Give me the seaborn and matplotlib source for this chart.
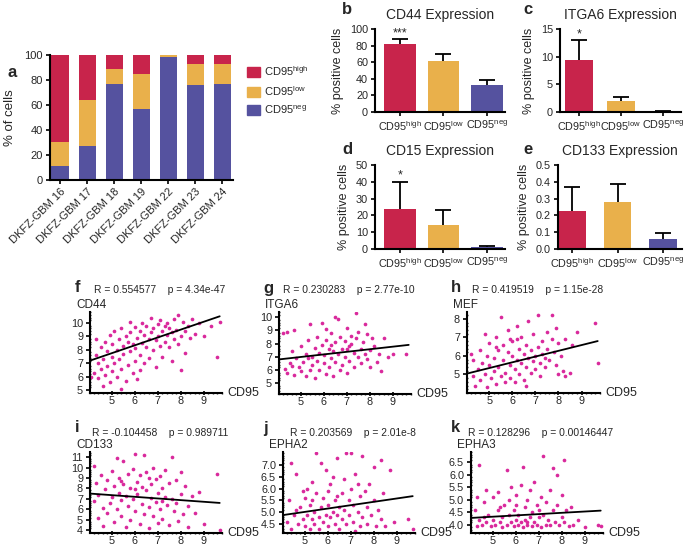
import matplotlib
matplotlib.use("Agg")
import matplotlib.pyplot as plt
from matplotlib.patches import Patch
from matplotlib.ticker import MultipleLocator, FormatStrFormatter
import numpy as np
import pandas as pd
import seaborn as sns

sns.set_style("ticks")
plt.rcParams['font.family'] = ['Liberation Sans', 'DejaVu Sans']
plt.rcParams['mathtext.default'] = 'regular'

W, H = 685, 548
RED = '#c8244b'
ORANGE = '#e9b04b'
BLUE = '#55529f'
MAG = '#d9299c'

# ---- panel a: CD95 subpopulations per line
gbm_lines = ['DKFZ-GBM 16', 'DKFZ-GBM 17', 'DKFZ-GBM 18', 'DKFZ-GBM 19',
             'DKFZ-GBM 22', 'DKFZ-GBM 23', 'DKFZ-GBM 24']
cd95_neg = [11, 27, 77, 57, 98, 76, 77]
cd95_low = [19, 37, 12, 28, 2, 17, 16]
cd95_high = [70, 36, 11, 15, 0, 7, 7]

# ---- panels b-e: marker expression per group
groups = ['CD95$^{high}$', 'CD95$^{low}$', 'CD95$^{neg}$']
cd44_mean = [82, 62, 33]
cd44_err = [6, 8, 5]
itga6_mean = [9.4, 1.9, 0.1]
itga6_err = [3.6, 0.8, 0.05]
cd15_mean = [24, 14, 1.0]
cd15_err = [16, 9, 0.8]
cd133_mean = [0.225, 0.28, 0.057]
cd133_err = [0.145, 0.105, 0.041]

f_pts = [(4.2,6.3),(4.3,7.6),(4.3,8.8),(4.4,5.9),(4.4,7.0),(4.5,6.6),(4.5,8.2),(4.6,5.3),(4.6,7.3),(4.7,6.1),
         (4.7,8.6),(4.8,6.8),(4.8,7.9),(4.9,5.6),(4.9,9.1),(5.0,6.4),(5.0,7.5),(5.0,8.4),(5.1,7.0),(5.1,9.4),
         (5.2,6.0),(5.2,8.0),(5.3,8.8),(5.3,7.3),(5.4,6.6),(5.4,9.6),(5.5,8.3),(5.5,7.7),(5.6,5.7),(5.6,9.0),
         (5.7,8.6),(5.7,6.9),(5.8,9.3),(5.8,7.9),(5.9,8.4),(5.9,6.3),(6.0,9.7),(6.0,8.1),(6.0,7.2),(6.1,8.9),
         (6.1,5.8),(6.2,9.4),(6.2,7.6),(6.3,8.5),(6.3,10.0),(6.4,7.0),(6.4,9.1),(6.5,8.2),(6.5,9.8),(6.6,8.8),
         (6.6,7.4),(6.7,10.4),(6.7,9.3),(6.8,8.0),(6.8,9.6),(6.9,8.7),(6.9,6.7),(7.0,9.9),(7.0,9.0),(7.1,8.3),
         (7.1,10.2),(7.2,9.4),(7.2,7.5),(7.3,9.8),(7.3,8.6),(7.4,10.0),(7.4,9.1),(7.5,8.2),(7.5,9.6),(7.6,9.3),
         (7.7,10.3),(7.7,8.8),(7.8,9.5),(7.9,10.6),(7.9,8.4),(8.0,9.0),(8.0,6.5),(8.1,10.1),(8.2,9.4),(8.2,7.8),
         (8.3,9.8),(8.4,8.9),(8.5,10.3),(8.6,9.2),(8.8,10.0),(9.0,9.0),(9.3,9.8),(9.6,7.5),(9.7,10.1),(5.4,5.1),
         (4.1,6.0),(6.2,6.5),(5.8,10.1),(7.6,7.2)]
g_pts = [(4.2,8.8),(4.3,6.1),(4.4,8.9),(4.4,5.8),(4.5,6.5),(4.6,7.4),(4.7,5.6),(4.7,9.0),(4.8,6.9),(4.9,6.2),
         (5.0,7.8),(5.0,5.9),(5.1,6.6),(5.2,7.2),(5.2,5.5),(5.3,8.3),(5.4,6.0),(5.4,9.5),(5.5,7.0),(5.5,6.4),
         (5.6,7.7),(5.6,5.4),(5.7,8.5),(5.7,6.7),(5.8,7.3),(5.8,6.0),(5.9,9.6),(5.9,7.9),(6.0,6.5),(6.0,7.1),
         (6.1,8.3),(6.1,5.7),(6.2,7.6),(6.2,6.2),(6.3,8.8),(6.3,6.9),(6.4,7.4),(6.4,5.5),(6.5,8.1),(6.5,6.6),
         (6.6,9.9),(6.6,7.2),(6.7,6.0),(6.7,8.5),(6.8,7.6),(6.8,6.4),(6.9,8.2),(6.9,7.0),(7.0,9.2),(7.0,5.8),
         (7.1,7.8),(7.1,6.7),(7.2,8.6),(7.2,8.0),(7.3,7.3),(7.3,6.2),(7.4,8.4),(7.4,10.3),(7.5,7.0),(7.5,8.9),
         (7.6,7.6),(7.6,6.5),(7.7,8.1),(7.8,7.2),(7.8,9.5),(7.9,6.8),(7.9,8.7),(8.0,7.5),(8.0,6.2),(8.1,8.4),
         (8.2,7.8),(8.3,6.6),(8.4,7.2),(8.5,5.9),(8.6,8.4),(8.8,7.0),(9.0,7.2),(9.6,7.2),(6.5,10.0),(5.3,6.9),
         (6.1,9.1),(4.6,6.3),(7.0,7.6),(6.3,7.9)]
h_pts = [(4.2,6.1),(4.3,4.9),(4.3,5.8),(4.4,4.4),(4.5,5.3),(4.6,6.3),(4.6,4.7),(4.7,5.6),(4.8,5.0),(4.8,7.2),
         (4.9,4.3),(5.0,5.5),(5.0,6.7),(5.1,4.8),(5.2,5.9),(5.2,5.2),(5.3,4.5),(5.3,7.0),(5.4,6.3),(5.4,5.4),
         (5.5,8.1),(5.5,4.9),(5.6,5.8),(5.6,6.6),(5.7,5.1),(5.7,4.6),(5.8,6.2),(5.8,7.4),(5.9,5.5),(5.9,4.8),
         (6.0,6.0),(6.0,6.8),(6.1,5.3),(6.1,4.6),(6.2,5.8),(6.2,7.6),(6.3,6.4),(6.3,5.0),(6.4,5.6),(6.4,7.0),
         (6.5,6.1),(6.5,4.7),(6.6,5.4),(6.6,6.6),(6.7,7.9),(6.7,5.9),(6.8,5.1),(6.8,6.3),(6.9,5.7),(6.9,7.2),
         (7.0,6.0),(7.0,5.3),(7.1,8.2),(7.1,6.5),(7.2,5.6),(7.2,4.9),(7.3,6.8),(7.3,6.1),(7.4,5.4),(7.5,7.3),
         (7.5,6.4),(7.6,5.8),(7.7,8.2),(7.7,6.9),(7.8,6.2),(7.9,5.5),(7.9,7.5),(8.0,5.0),(8.0,6.7),(8.1,6.0),
         (8.2,5.2),(8.3,6.9),(8.3,4.9),(8.5,5.1),(8.6,6.6),(8.8,7.3),(9.6,7.8),(9.7,5.6),(6.2,6.9),(5.3,6.5),
         (4.9,6.0),(6.6,4.4),(7.4,5.9),(5.9,6.9)]
i_pts = [(4.2,10.2),(4.2,6.8),(4.3,8.5),(4.4,5.2),(4.4,7.4),(4.5,9.3),(4.6,6.1),(4.6,4.4),(4.7,7.9),(4.8,8.8),
         (4.8,5.6),(4.9,6.6),(5.0,9.7),(5.0,7.2),(5.1,4.8),(5.1,8.2),(5.2,6.0),(5.2,10.9),(5.3,7.6),(5.3,9.0),
         (5.4,5.3),(5.4,6.9),(5.5,10.6),(5.5,8.4),(5.6,4.3),(5.6,7.3),(5.7,9.4),(5.7,6.3),(5.8,8.0),(5.8,5.0),
         (5.9,9.9),(5.9,7.0),(6.0,11.3),(6.0,5.8),(6.1,8.6),(6.1,7.5),(6.2,9.3),(6.2,4.6),(6.3,6.5),(6.3,8.1),
         (6.4,11.2),(6.4,5.5),(6.5,7.8),(6.5,9.6),(6.6,6.2),(6.6,4.2),(6.7,8.4),(6.7,7.1),(6.8,10.0),(6.8,5.3),
         (6.9,8.9),(6.9,6.7),(7.0,7.6),(7.0,4.7),(7.1,9.2),(7.1,6.0),(7.2,8.0),(7.2,5.1),(7.3,7.2),(7.3,9.8),
         (7.4,6.4),(7.5,8.5),(7.5,4.5),(7.6,11.0),(7.6,7.0),(7.7,5.8),(7.8,8.8),(7.8,6.6),(7.9,4.9),(8.0,7.5),
         (8.0,9.6),(8.1,5.5),(8.2,8.2),(8.3,6.3),(8.3,4.3),(8.5,7.3),(8.6,5.6),(8.8,7.7),(9.0,4.6),(9.6,9.4),
         (9.7,4.0),(6.0,7.9),(5.4,8.7),(7.2,6.8),(6.6,9.0)]
j_pts = [(4.2,4.6),(4.3,5.5),(4.4,7.1),(4.4,4.3),(4.5,4.9),(4.6,6.6),(4.7,4.5),(4.8,5.2),(4.9,4.7),(4.9,5.9),
         (5.0,4.4),(5.0,5.6),(5.1,6.0),(5.1,4.9),(5.2,5.3),(5.2,4.3),(5.3,4.7),(5.3,6.3),(5.4,5.0),(5.4,4.5),
         (5.5,7.5),(5.5,5.8),(5.6,4.8),(5.6,4.3),(5.7,5.2),(5.7,7.1),(5.8,4.6),(5.8,5.6),(5.9,6.8),(5.9,4.9),
         (6.0,5.3),(6.0,4.4),(6.1,6.2),(6.1,4.8),(6.2,5.0),(6.2,6.5),(6.3,4.5),(6.3,5.5),(6.4,4.9),(6.4,7.3),
         (6.5,5.2),(6.5,4.3),(6.6,5.8),(6.6,4.7),(6.7,6.4),(6.7,5.1),(6.8,4.5),(6.8,7.5),(6.9,5.5),(6.9,4.9),
         (7.0,7.5),(7.0,6.0),(7.1,4.6),(7.1,5.3),(7.2,4.2),(7.2,6.6),(7.3,5.0),(7.4,5.7),(7.4,4.4),(7.5,7.4),
         (7.5,4.8),(7.6,5.9),(7.7,5.2),(7.7,4.5),(7.8,6.2),(7.9,4.9),(8.0,6.9),(8.0,5.5),(8.1,4.4),(8.2,5.1),
         (8.3,7.2),(8.3,4.7),(8.4,5.8),(8.5,4.4),(8.7,6.8),(8.9,4.6),(9.5,4.7),(9.7,4.3),(6.4,5.7),(5.3,5.5),
         (7.3,6.2),(4.6,5.1),(6.0,5.9)]
k_pts = [(4.2,4.6),(4.3,5.1),(4.3,3.95),(4.4,6.4),(4.4,4.2),(4.5,4.0),(4.6,4.9),(4.7,5.4),(4.7,4.1),(4.8,4.4),
         (4.9,3.95),(5.0,5.1),(5.0,4.2),(5.1,4.0),(5.2,4.6),(5.2,5.3),(5.3,4.1),(5.4,4.3),(5.4,3.9),(5.5,4.8),
         (5.6,6.2),(5.6,4.0),(5.7,4.4),(5.7,5.0),(5.8,4.1),(5.9,3.95),(5.9,4.6),(6.0,5.2),(6.0,4.2),(6.1,4.0),
         (6.1,4.4),(6.2,5.6),(6.2,4.1),(6.3,6.3),(6.3,3.9),(6.4,4.7),(6.4,4.2),(6.5,5.0),(6.5,4.0),(6.6,4.3),
         (6.6,5.4),(6.7,3.95),(6.7,4.5),(6.8,4.1),(6.8,5.7),(6.9,4.8),(6.9,4.0),(7.0,4.3),(7.1,5.1),(7.1,3.9),
         (7.2,6.75),(7.2,4.4),(7.3,4.0),(7.3,4.9),(7.4,4.2),(7.5,5.4),(7.5,4.0),(7.6,6.25),(7.6,4.6),(7.7,4.1),
         (7.8,6.0),(7.8,4.8),(7.9,4.0),(8.0,5.2),(8.0,4.3),(8.1,6.6),(8.1,4.1),(8.2,4.6),(8.3,3.95),(8.4,4.7),
         (8.5,4.0),(8.7,4.2),(9.0,3.9),(9.6,4.0),(9.7,3.95),(6.0,4.8),(5.3,4.7),(7.0,4.6),(4.6,4.3),(6.5,4.1),
         (5.8,5.5)]

# fitted lines (intercept, slope) as drawn in the figure
fit_f = (4.835, 0.584)
fit_g = (6.01, 0.195)
fit_h = (3.795, 0.31)
fit_i = (8.144, -0.159)
fit_j = (4.307, 0.1416)
fit_k = (4.072, 0.0513)

fig = plt.figure(figsize=(W / 100, H / 100), dpi=100)


def px_axes(x0, y0, x1, y1):
    return fig.add_axes([x0 / W, 1 - y1 / H, (x1 - x0) / W, (y1 - y0) / H])


def style_axes(ax, size=8):
    sns.despine(ax=ax)
    for s in ['left', 'bottom']:
        ax.spines[s].set_linewidth(1.5)
        ax.spines[s].set_color('black')
    ax.tick_params(length=3, width=1.2, labelsize=size, pad=2, color='black')


# ---- a
ax = px_axes(50, 55, 233, 180)
tot = np.array(cd95_neg) + np.array(cd95_low) + np.array(cd95_high)
mid = np.array(cd95_neg) + np.array(cd95_low)
for vals, col in [(tot, RED), (mid, ORANGE), (cd95_neg, BLUE)]:
    sns.barplot(x=gbm_lines, y=vals, color=col, saturation=1, width=0.63,
                edgecolor='none', ax=ax)
style_axes(ax)
ax.set_xlim(-0.37, 6.4)
ax.set_ylim(0, 100)
ax.set_yticks(range(0, 101, 20))
ax.set_ylabel('% of cells', fontsize=9.5, labelpad=6)
ax.set_xticks(range(len(gbm_lines)))
ax.set_xticklabels(gbm_lines, rotation=45, ha='right', rotation_mode='anchor', fontsize=8)
handles = [Patch(color=RED, label='CD95$^{high}$'),
           Patch(color=ORANGE, label='CD95$^{low}$'),
           Patch(color=BLUE, label='CD95$^{neg}$')]
fig.legend(handles=handles, loc='upper left', bbox_to_anchor=(237 / W, 1 - 54 / H),
           frameon=False, fontsize=8, handlelength=1.2, handleheight=1.0,
           handletextpad=0.35, labelspacing=0.55)


# ---- b-e
def bar_panel(box, means, errs, ylim, step, title, star, xlim, width, fmt=None):
    ax = px_axes(*box)
    sns.barplot(x=groups, y=means, hue=groups, palette=[RED, ORANGE, BLUE],
                legend=False, saturation=1, width=width, edgecolor='none', ax=ax)
    tops = np.array(means) + np.array(errs)
    ax.vlines(range(3), means, tops, color='black', lw=1.3, zorder=5)
    ax.plot(range(3), tops, ls='none', marker='_', ms=11, mew=1.3, color='black', zorder=5)
    style_axes(ax, 7.8)
    ax.set_xlim(*xlim)
    ax.set_ylim(*ylim)
    ax.yaxis.set_major_locator(MultipleLocator(step))
    if fmt:
        ax.yaxis.set_major_formatter(FormatStrFormatter(fmt))
    ax.set_ylabel('% positive cells', fontsize=9, labelpad=4)
    ax.set_title(title, fontsize=10, pad=7)
    if star:
        ax.text(0, tops[0], star, ha='center', va='bottom', fontsize=9)
    return ax


bar_panel((375, 29, 505, 112), cd44_mean, cd44_err, (0, 100), 20, 'CD44 Expression', '***',
          (-0.57, 2.41), 0.72)
bar_panel((560, 29, 681, 112), itga6_mean, itga6_err, (0, 15), 5, 'ITGA6 Expression', '*',
          (-0.46, 2.43), 0.68)
bar_panel((375, 165, 505, 249), cd15_mean, cd15_err, (0, 50), 10, 'CD15 Expression', '*',
          (-0.57, 2.41), 0.72)
bar_panel((558, 165, 682, 249), cd133_mean, cd133_err, (0, 0.5), 0.1, 'CD133 Expression', None,
          (-0.31, 2.42), 0.6, fmt='%.1f')


# ---- f-k
def scatter_panel(box, pts, fit, ylim, yticks, ylab, r_txt, title_y):
    ax = px_axes(*box)
    df = pd.DataFrame(pts, columns=['CD95', ylab])
    sns.scatterplot(data=df, x='CD95', y=ylab, color=MAG, s=7, linewidth=0, ax=ax)
    xl = np.array([4.05, 9.7])
    ax.plot(xl, np.polyval([fit[1], fit[0]], xl), color='black', lw=1.3)
    style_axes(ax, 7.8)
    ax.set_xlim(4.04, 9.8)
    ax.set_ylim(*ylim)
    ax.set_xticks([5, 6, 7, 8, 9])
    ax.set_yticks(yticks)
    ax.xaxis.set_minor_locator(MultipleLocator(0.2))
    ax.yaxis.set_minor_locator(MultipleLocator((yticks[1] - yticks[0]) / 5))
    ax.tick_params(which='minor', length=2, width=1, direction='inout')
    ax.tick_params(axis='x', which='major', length=3, direction='inout', pad=1)
    ax.set_xlabel('')
    ax.set_ylabel('')
    ax.annotate('CD95', xy=(1, 0), xycoords='axes fraction', xytext=(4, 0),
                textcoords='offset points', ha='left', va='center', fontsize=9)
    ax.annotate(ylab, xy=(0, 1), xycoords='axes fraction', xytext=(-10, 1),
                textcoords='offset points', ha='left', va='bottom', fontsize=8.5)
    cx = (box[0] + box[2]) / 2 / W + 4 / W
    fig.text(cx, 1 - title_y / H, r_txt, ha='center', va='center', fontsize=7.4)
    return ax


scatter_panel((90, 312, 222, 393), f_pts, fit_f, (4.78, 10.82), [5, 6, 7, 8, 9, 10], 'CD44',
              'R = 0.554577    p = 4.34e-47', 290)
scatter_panel((279, 312, 411, 394), g_pts, fit_g, (4.17, 10.4), [5, 6, 7, 8, 9, 10], 'ITGA6',
              'R = 0.230283    p = 2.77e-10', 290)
scatter_panel((467, 312, 600, 393), h_pts, fit_h, (4.0, 8.37), [5, 6, 7, 8], 'MEF',
              'R = 0.419519    p = 1.15e-28', 290)
scatter_panel((90, 452, 222, 533), i_pts, fit_i, (3.71, 11.5), [4, 5, 6, 7, 8, 9, 10, 11], 'CD133',
              'R = -0.104458    p = 0.989711', 433)
scatter_panel((283, 452, 415, 533), j_pts, fit_j, (4.12, 7.55), [4.5, 5.0, 5.5, 6.0, 6.5, 7.0], 'EPHA2',
              'R = 0.203569    p = 2.01e-8', 433)
scatter_panel((471, 452, 603, 533), k_pts, fit_k, (3.68, 6.9), [4.0, 4.5, 5.0, 5.5, 6.0, 6.5], 'EPHA3',
              'R = 0.128296    p = 0.00146447', 433)

# panel letters
letters = ['a', 'b', 'c', 'd', 'e', 'f', 'g', 'h', 'i', 'j', 'k']
letter_xy = [(8, 72), (342, 10), (523, 10), (342, 150), (523, 150),
             (75, 288), (263, 288), (451, 288), (75, 428), (263, 428), (451, 428)]
for lt, (lx, ly) in zip(letters, letter_xy):
    fig.text(lx / W, 1 - ly / H, lt, fontsize=12, fontweight='bold', ha='left', va='center')

fig.savefig('out.png', dpi=100)
